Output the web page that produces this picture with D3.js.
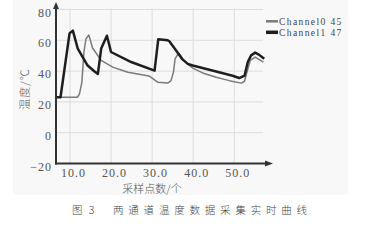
<!DOCTYPE html>
<html><head><meta charset="utf-8">
<script src="https://cdn.jsdelivr.net/npm/d3@7"></script>
<style>body{margin:0;background:#fff}svg{display:block}
.num{font-family:'Liberation Serif','DejaVu Serif',serif;}
.cjk{font-family:'Noto Sans CJK SC',sans-serif;}
</style>
</head><body>
<script>
// ---- data ----
const ch0X = [6.7,11.8,12.3,12.9,13.4,13.9,14.6,15.5,17.6,20.4,24.1,28.9,29.4,30.1,31.4,33.8,34.6,35.2,35.6,36.2,36.6,37.4,38.7,39.9,42.3,45.6,48.8,51.7,52.5,53.3,53.9,55.1,56.0,57.1];
const ch0Y = [23,23,25,32.7,52.4,61,63.4,55,47,42.6,39.3,37,36.6,35.3,32.7,32.2,33.8,39.3,48,50.7,51.3,48,44.3,41.9,38.8,36,33.8,32.2,33.4,41.4,46.9,49.1,47.6,45.8];
const ch1X = [6.7,7.7,9.9,10.7,11.9,14.3,16.0,16.8,17.6,19.0,20.0,24.9,30.6,31.5,33.8,34.2,35.8,37.4,38.7,39.9,45.6,49.6,51.2,52.5,53.3,54.1,55.1,56.0,57.3];
const ch1Y = [23,23,64.5,66.3,54.6,43.6,39.7,38.2,54.6,63,52.4,45.9,40.3,60.7,60,59.4,53.5,47.6,44.7,43.6,39.7,37,35.5,37,45.9,50.2,52,50.7,48];
const seriesNames = ["Channel0 45","Channel1 47"];
const xTicks = [10,20,30,40,50];
const yTicks = [-20,0,20,40,60,80];
const xTitle = "采样点数/个";
const yTitle = "温度/℃";
const caption = ["图 3", "两通道温度数据采集实时曲线"];

const W = 369, H = 242;
const svg = d3.select("body").append("svg").attr("width", W).attr("height", H);
svg.append("rect").attr("x",13).attr("y",0).attr("width",335).attr("height",195).attr("fill","#f8f8f8");

const x = d3.scaleLinear().domain([6.6, 57]).range([56, 263]);
const y = d3.scaleLinear().domain([-20, 80]).range([163.5, 9.5]);

// grid
const g = svg.append("g");
g.selectAll(".vg").data(xTicks).join("line")
  .attr("x1", d=>x(d)).attr("x2", d=>x(d)).attr("y1", y(80)-1).attr("y2", y(-20))
  .attr("stroke","#dcdcdc").attr("stroke-width",1);
g.selectAll(".hg").data(yTicks.filter(d=>d>-20)).join("line")
  .attr("x1", x(6.6)).attr("x2", x(57)).attr("y1", d=>y(d)).attr("y2", d=>y(d))
  .attr("stroke","#dcdcdc").attr("stroke-width",1);

// axes via d3
const xAxis = svg.append("g").attr("transform", `translate(0,${y(-20)})`)
  .call(d3.axisBottom(x).tickValues(xTicks).tickFormat(d3.format(".1f")).tickSize(0).tickPadding(5));
xAxis.attr("font-family",null).attr("font-size",null);
xAxis.select(".domain").remove();
xAxis.selectAll("text").attr("class","num").attr("font-size",12).attr("fill","#555").attr("dx",3).attr("letter-spacing",1);

const yAxis = svg.append("g").attr("transform", `translate(${x(6.6)},0)`)
  .call(d3.axisLeft(y).tickValues(yTicks).tickSize(0).tickPadding(4));
yAxis.attr("font-family",null).attr("font-size",null);
yAxis.select(".domain").remove();
yAxis.selectAll("text").attr("class","num").attr("font-size",12).attr("fill","#555").attr("dy","0.55em").attr("letter-spacing",1);

// axis lines with arrows
const ax = svg.append("g").attr("stroke","#333").attr("stroke-width",2);
ax.append("line").attr("x1",x(6.6)).attr("x2",x(6.6)).attr("y1",y(-20)+1).attr("y2",5);
ax.append("line").attr("x1",x(6.6)-1).attr("x2",266).attr("y1",y(-20)).attr("y2",y(-20));
svg.append("path").attr("d",`M${x(6.6)},2 L${x(6.6)-3},9 L${x(6.6)+3},9Z`).attr("fill","#333");
svg.append("path").attr("d",`M273,${y(-20)} L265,${y(-20)-3} L265,${y(-20)+3}Z`).attr("fill","#333");

// lines
const line = d3.line().x(d=>x(d[0])).y(d=>y(d[1]));
const d0 = ch0X.map((v,i)=>[v,ch0Y[i]]);
const d1 = ch1X.map((v,i)=>[v,ch1Y[i]]);
svg.append("path").datum(d0).attr("d",line).attr("fill","none").attr("stroke","#7a7a7a").attr("stroke-width",1.5).attr("stroke-linejoin","round");
svg.append("path").datum(d1).attr("d",line).attr("fill","none").attr("stroke","#1e1e1e").attr("stroke-width",2.5).attr("stroke-linejoin","round");

// legend
const lg = svg.append("g");
const lcol = ["#7a7a7a","#1e1e1e"], lw = [2.5,3.5];
seriesNames.forEach((n,i)=>{
  const yy = 21.3 + i*11;
  lg.append("line").attr("x1",266).attr("x2",278).attr("y1",yy).attr("y2",yy).attr("stroke",lcol[i]).attr("stroke-width",lw[i]);
  lg.append("text").attr("x",279).attr("y",yy+3.3).text(n).attr("class","num")
    .attr("font-size",9.5).attr("fill","#444").attr("letter-spacing",1.4);
});

// titles
svg.append("text").attr("x",152).attr("y",193).attr("text-anchor","middle").text(xTitle).attr("class","cjk")
  .attr("font-size",11).attr("fill","#555").attr("font-weight",300);
svg.append("text").attr("transform","translate(29,89) rotate(-90)").attr("text-anchor","middle").text(yTitle).attr("class","cjk")
  .attr("font-size",11).attr("fill","#555").attr("font-weight",300).attr("letter-spacing",1);

// caption
svg.append("text").attr("x",72).attr("y",214).text(caption[0]).attr("class","cjk")
  .attr("font-size",10.5).attr("fill","#444").attr("letter-spacing",2).attr("font-weight",300);
svg.append("text").attr("x",113).attr("y",214).text(caption[1]).attr("class","cjk")
  .attr("font-size",10.5).attr("fill","#444").attr("letter-spacing",4.8).attr("font-weight",300);
</script>
</body></html>
